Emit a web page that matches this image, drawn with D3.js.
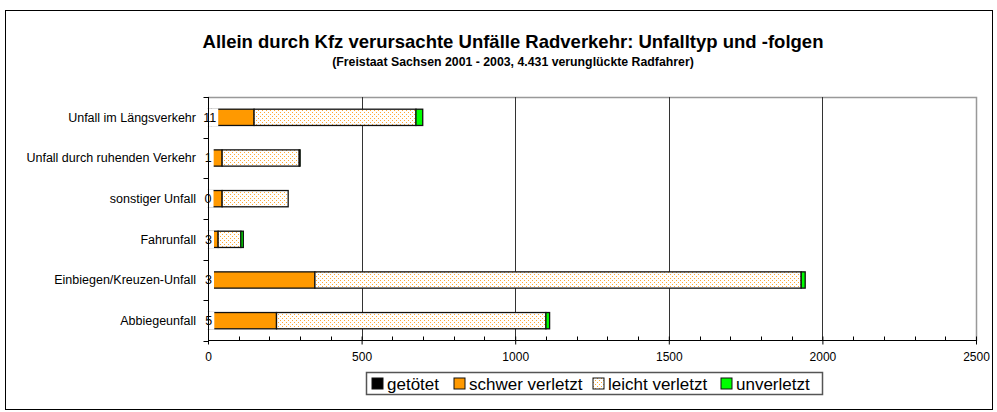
<!DOCTYPE html>
<html>
<head>
<meta charset="utf-8">
<script src="https://cdn.jsdelivr.net/npm/d3@7"></script>
<style>
  body { margin: 0; background: #fff; }
  text { font-family: "Liberation Sans", Arial, sans-serif; }
</style>
</head>
<body>
<script>
var width = 997, height = 412;

// data
var categories = ["Unfall im Längsverkehr", "Unfall durch ruhenden Verkehr", "sonstiger Unfall",
                  "Fahrunfall", "Einbiegen/Kreuzen-Unfall", "Abbiegeunfall"];
var seriesNames = ["getötet", "schwer verletzt", "leicht verletzt", "unverletzt"];
var getoetet   = [11, 1, 0, 3, 3, 5];
var schwer     = [139, 45, 46, 30, 345, 218];
var leicht     = [527, 251, 215, 74, 1583, 877];
var unverletzt = [22, 3, 0, 8, 13, 12];
var xTicks = [0, 500, 1000, 1500, 2000, 2500];

var rows = categories.map(function(c, i) {
  return {cat: c, "getötet": getoetet[i], "schwer verletzt": schwer[i],
          "leicht verletzt": leicht[i], "unverletzt": unverletzt[i]};
});
var stacked = d3.stack().keys(seriesNames)(rows);

var svg = d3.select("body").append("svg")
    .attr("width", width)
    .attr("height", height);

var defs = svg.append("defs");
var pat = defs.append("pattern")
    .attr("id", "dots")
    .attr("width", 4).attr("height", 4)
    .attr("patternUnits", "userSpaceOnUse");
pat.append("rect").attr("width", 4).attr("height", 4).attr("fill", "#fff");
pat.append("rect").attr("x", 0).attr("y", 0).attr("width", 1).attr("height", 1).attr("fill", "#ffa733");
pat.append("rect").attr("x", 2).attr("y", 2).attr("width", 1).attr("height", 1).attr("fill", "#ffa733");

var fills = {"getötet": "#000", "schwer verletzt": "#ff9900", "leicht verletzt": "url(#dots)", "unverletzt": "#00ff00"};

// outer frame
svg.append("rect")
    .attr("x", 5.5).attr("y", 10.5)
    .attr("width", 987).attr("height", 399)
    .attr("fill", "#fff").attr("stroke", "#000").attr("stroke-width", 1);

// titles
svg.append("text")
    .attr("x", 513).attr("y", 48)
    .attr("text-anchor", "middle")
    .style("font-size", "18.5px").style("font-weight", "bold")
    .text("Allein durch Kfz verursachte Unfälle Radverkehr: Unfalltyp und -folgen");
svg.append("text")
    .attr("x", 513).attr("y", 66)
    .attr("text-anchor", "middle")
    .style("font-size", "12.3px").style("font-weight", "bold")
    .text("(Freistaat Sachsen 2001 - 2003, 4.431 verunglückte Radfahrer)");

var x = d3.scaleLinear().domain([0, 2500]).range([208, 976]);
var y = d3.scaleBand().domain(categories).range([97, 341]).paddingInner(0.6).paddingOuter(0.3);
var yb = d3.scaleBand().domain(categories).range([97, 341]);

// plot area border (top/right)
svg.append("path")
    .attr("d", "M208,97.5H976.5V341")
    .attr("fill", "none").attr("stroke", "#999").attr("stroke-width", 1.5);

// gridlines
svg.append("g").selectAll("line")
    .data(xTicks.slice(1, -1))
    .join("line")
    .attr("x1", function(d) { return Math.round(x(d)) + 0.5; })
    .attr("x2", function(d) { return Math.round(x(d)) + 0.5; })
    .attr("y1", 97).attr("y2", 341)
    .attr("stroke", "#333");

// bars
svg.append("g").selectAll("g")
    .data(stacked)
    .join("g")
    .attr("fill", function(d) { return fills[d.key]; })
    .selectAll("rect")
    .data(function(d) { return d; })
    .join("rect")
    .attr("x", function(d) { return x(d[0]); })
    .attr("y", function(d) { return y(d.data.cat); })
    .attr("width", function(d) { return Math.max(0, x(d[1]) - x(d[0])); })
    .attr("height", y.bandwidth())
    .attr("stroke", "#111").attr("stroke-width", 1.3);

// getötet labels with white background
var lab = svg.append("g").selectAll("g")
    .data(rows)
    .join("g")
    .attr("transform", function(d) {
      var cx = (x(0) + x(d["getötet"])) / 2;
      return "translate(" + cx + "," + (y(d.cat) + y.bandwidth() / 2) + ")";
    });
lab.append("text")
    .attr("text-anchor", "middle").attr("dy", "0.35em")
    .style("font-size", "12.5px")
    .text(function(d) { return d["getötet"]; })
    .each(function() {
      var bb = this.getBBox();
      d3.select(this.parentNode).insert("rect", "text")
        .attr("x", bb.x - 2).attr("y", -9)
        .attr("width", bb.width + 4).attr("height", 18)
        .attr("fill", "#fff");
    });

// y axis
var yAxis = svg.append("g")
    .attr("transform", "translate(208.5,0)");
yAxis.append("line").attr("y1", 97).attr("y2", 341).attr("stroke", "#000");
yAxis.selectAll(".tk")
    .data(categories.concat(["_end"]))
    .join("line")
    .attr("x1", -5).attr("x2", 0)
    .attr("y1", function(d, i) { return Math.round(97 + i * yb.step()) + 0.5; })
    .attr("y2", function(d, i) { return Math.round(97 + i * yb.step()) + 0.5; })
    .attr("stroke", "#000");
svg.append("g").selectAll("text")
    .data(categories)
    .join("text")
    .attr("x", 196)
    .attr("y", function(d) { return y(d) + y.bandwidth() / 2; })
    .attr("dy", "0.35em")
    .attr("text-anchor", "end")
    .style("font-size", "12.5px")
    .text(function(d) { return d; });

// x axis
var xAxis = d3.axisBottom(x)
    .tickValues(xTicks)
    .tickSize(4)
    .tickPadding(8)
    .tickFormat(d3.format("d"));
var gx = svg.append("g")
    .attr("transform", "translate(0,340.5)")
    .call(xAxis);
gx.select(".domain").attr("stroke", "#000").attr("d", "M208,0H976");
gx.selectAll(".tick line").attr("y1", -4).attr("y2", 4).attr("stroke", "#000");
gx.selectAll(".tick text")
    .style("font-size", "12px").style("font-family", "Liberation Sans, Arial, sans-serif")
    .attr("fill", "#000");
gx.append("g").selectAll("line")
    .data(d3.range(100, 2500, 100).filter(function(d) { return d % 500 !== 0; }))
    .join("line")
    .attr("x1", function(d) { return Math.round(x(d)) + 0.5; })
    .attr("x2", function(d) { return Math.round(x(d)) + 0.5; })
    .attr("y1", -4).attr("y2", 0)
    .attr("stroke", "#000");

// legend
var legend = svg.append("g");
legend.append("rect")
    .attr("x", 366.5).attr("y", 372.5)
    .attr("width", 456).attr("height", 22)
    .attr("fill", "#fff").attr("stroke", "#555").attr("stroke-width", 1.5);
var legX = [372, 454, 593, 721];
var items = legend.selectAll("g.item")
    .data(seriesNames)
    .join("g")
    .attr("transform", function(d, i) { return "translate(" + legX[i] + ",378)"; });
items.append("rect")
    .attr("width", 11).attr("height", 11)
    .attr("fill", function(d) { return fills[d]; })
    .attr("stroke", "#111");
items.append("text")
    .attr("x", 15).attr("y", 6).attr("dy", "0.35em")
    .style("font-size", "17px")
    .text(function(d) { return d; });
</script>
</body>
</html>
